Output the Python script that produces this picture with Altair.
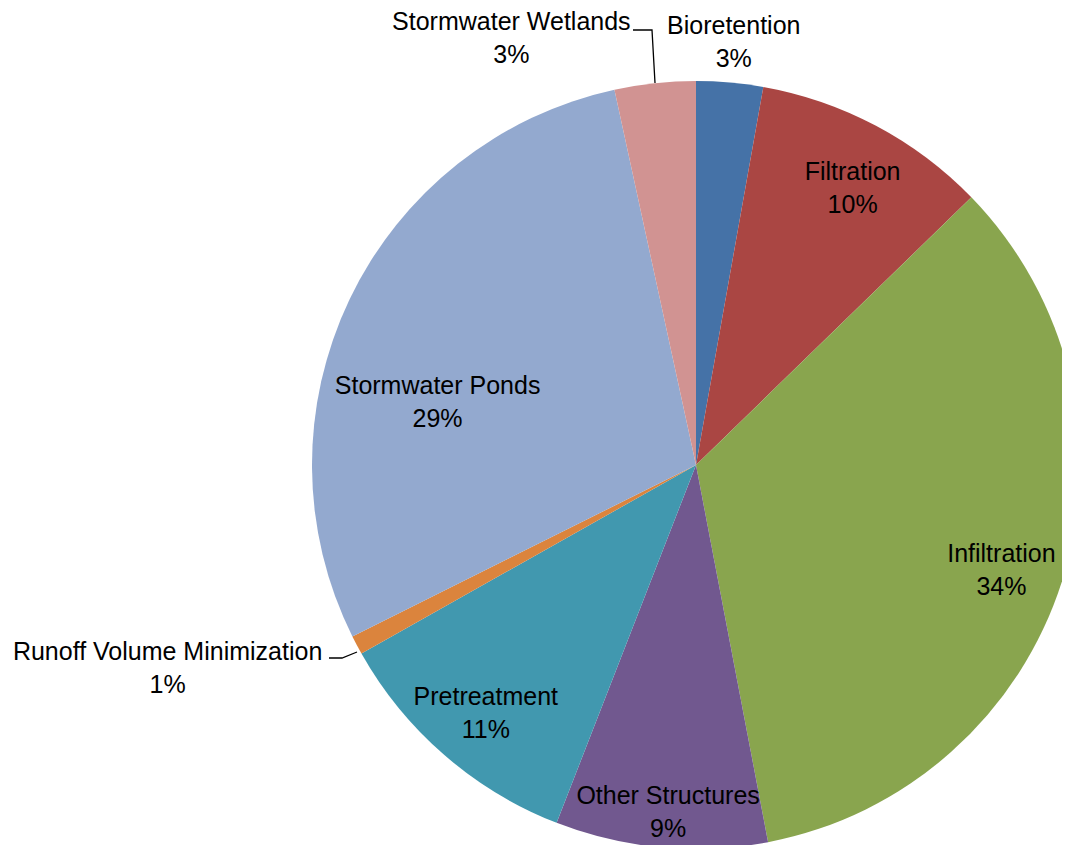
import math
import altair as alt
import pandas as pd

categories = ["Bioretention", "Filtration", "Infiltration", "Other Structures",
              "Pretreatment", "Runoff Volume Minimization", "Stormwater Ponds",
              "Stormwater Wetlands"]
shares = [2.8, 9.9, 34.2, 8.9, 10.9, 0.8, 28.9, 3.4]
pct_labels = ["3%", "10%", "34%", "9%", "11%", "1%", "29%", "3%"]
colors = ["#4572A7", "#AA4643", "#89A54E", "#71588F", "#4198AF", "#DB843D",
          "#93A9CF", "#D19392"]
# label placement (angle clockwise from north, radius in px)
label_angle_deg = [5.1, 29.5, 109.0, 184.6, 220.3, 249.0, 283.7, 336.6]
label_radius = [425, 318, 323, 348, 325, 566, 266, 465]
# leader lines for the two outside labels (pixel points)
leader_group = ["w", "w", "w", "r", "r", "r"]
leader_x = [625, 644, 647, 321, 334, 349]
leader_y = [22, 22, 75, 650, 650, 644]

W, H = 1054, 837
CX, CY, R = 688, 457, 384

df = pd.DataFrame({
    "category": categories,
    "share": shares,
    "idx": list(range(len(categories))),
})
lab = pd.DataFrame({
    "text": [f"{c}\n{p}" for c, p in zip(categories, pct_labels)],
    "theta": [math.radians(a) for a in label_angle_deg],
    "radius": label_radius,
})
lead = pd.DataFrame({"g": leader_group, "x": leader_x, "y": leader_y,
                     "o": list(range(len(leader_x)))})

arcs = alt.Chart(df).mark_arc(radius=R).encode(
    theta=alt.Theta("share:Q", stack=True),
    order=alt.Order("idx:Q"),
    color=alt.Color("category:N", scale=alt.Scale(domain=categories, range=colors),
                    legend=None),
    x=alt.value(CX),
    y=alt.value(CY),
)

labels = alt.Chart(lab).mark_text(
    font="Liberation Sans", fontSize=25, lineBreak="\n", lineHeight=33,
    align="center", baseline="middle", color="#000000", dy=-16
).encode(
    text="text:N",
    theta=alt.Theta("theta:Q", scale=None),
    radius=alt.Radius("radius:Q", scale=None),
    x=alt.value(CX),
    y=alt.value(CY),
)

leaders = alt.Chart(lead).mark_line(color="#000000", strokeWidth=1.3).encode(
    x=alt.X("x:Q", scale=None),
    y=alt.Y("y:Q", scale=None),
    detail="g:N",
    order="o:Q",
)

chart = alt.layer(arcs, leaders, labels).properties(
    width=W, height=H, padding=0, autosize=alt.AutoSizeParams(type="none")
).configure_view(stroke=None)

chart.save("out.html", embed_options={"renderer": "svg", "actions": False})
